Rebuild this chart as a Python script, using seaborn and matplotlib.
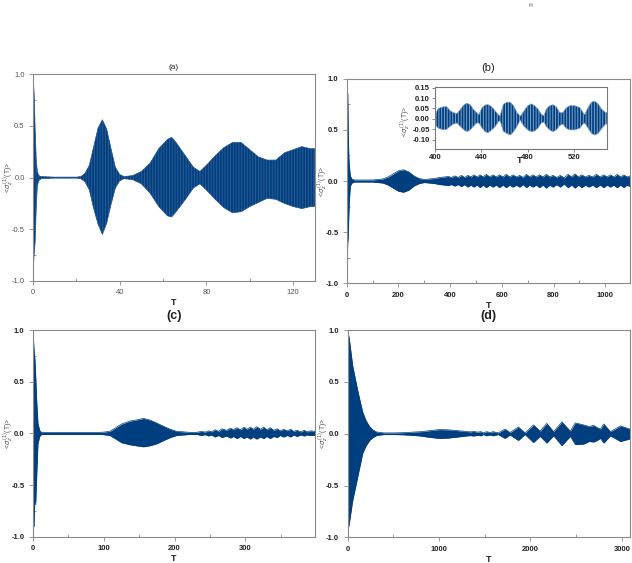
import matplotlib
matplotlib.use('Agg')
import matplotlib.pyplot as plt
from matplotlib.ticker import MultipleLocator, FormatStrFormatter
import seaborn as sns

# ---- envelope of <sigma_z(T)> ----
# panel (a)
a_t = [0, 0.5, 1.0, 1.5, 2.0, 2.5, 3.0, 4, 10, 20, 22, 24, 26, 28, 30, 32, 34, 36, 38, 40, 42,
       46, 50, 54, 58, 62, 64, 66, 70, 74, 77, 80, 84, 88, 92, 96, 100, 104, 108, 112, 116,
       120, 124, 128, 130]
a_up = [1.0, 0.83, 0.47, 0.18, 0.06, 0.03, 0.015, 0.01, 0.005, 0.005, 0.01, 0.04, 0.12, 0.3,
        0.48, 0.56, 0.47, 0.28, 0.1, 0.03, 0.01, 0.02, 0.06, 0.14, 0.28, 0.37, 0.39, 0.34,
        0.22, 0.1, 0.06, 0.12, 0.21, 0.29, 0.34, 0.34, 0.27, 0.2, 0.17, 0.17, 0.24, 0.27,
        0.3, 0.28, 0.28]
a_lo = [-0.96, -0.75, -0.62, -0.3, -0.08, -0.04, -0.02, -0.01, -0.005, -0.005, -0.01, -0.04,
        -0.12, -0.3, -0.45, -0.55, -0.44, -0.26, -0.1, -0.03, -0.01, -0.02, -0.06, -0.15,
        -0.28, -0.37, -0.38, -0.33, -0.22, -0.1, -0.06, -0.12, -0.21, -0.29, -0.34, -0.33,
        -0.28, -0.24, -0.2, -0.21, -0.25, -0.28, -0.3, -0.28, -0.28]

# panel (b)
b_t = [0, 2, 4, 6, 8, 10, 14, 20, 30, 60, 100, 120, 140, 160, 180, 200, 220, 240, 260, 280,
       300, 320, 340, 360, 380,
       392, 405, 418, 431, 444, 456, 469, 480, 492, 504, 516, 528, 540, 553, 566, 578, 591,
       604, 617, 630, 643, 656, 669, 682, 695, 708, 720, 733, 746, 759, 772, 785, 798, 812,
       826, 841, 856, 870, 883, 896, 909, 923, 937, 951, 966, 980, 994, 1007, 1020, 1033,
       1046, 1059, 1072, 1084, 1096]
b_up = [1.0, 0.9, 0.85, 0.5, 0.25, 0.15, 0.05, 0.02, 0.01, 0.01, 0.01, 0.015, 0.02, 0.04,
        0.07, 0.1, 0.11, 0.09, 0.05, 0.025, 0.015, 0.02, 0.025, 0.035, 0.04,
        0.045, 0.035, 0.05, 0.035, 0.055, 0.035, 0.055, 0.04, 0.06, 0.04, 0.06, 0.04, 0.065,
        0.04, 0.06, 0.04, 0.06, 0.04, 0.065, 0.04, 0.06, 0.04, 0.055, 0.035, 0.065, 0.04,
        0.06, 0.04, 0.06, 0.04, 0.065, 0.04, 0.055, 0.035, 0.055, 0.03, 0.065, 0.04, 0.07,
        0.04, 0.06, 0.04, 0.055, 0.04, 0.065, 0.04, 0.06, 0.04, 0.06, 0.04, 0.065, 0.04,
        0.06, 0.04, 0.05]
b_lo = [-0.93, -0.78, -0.6, -0.55, -0.35, -0.2, -0.05, -0.02, -0.01, -0.01, -0.01, -0.015,
        -0.02, -0.04, -0.07, -0.1, -0.11, -0.09, -0.05, -0.025, -0.015, -0.02, -0.025,
        -0.035, -0.04,
        -0.045, -0.035, -0.05, -0.035, -0.055, -0.035, -0.06, -0.04, -0.06, -0.04, -0.065,
        -0.04, -0.065, -0.04, -0.06, -0.04, -0.065, -0.04, -0.065, -0.04, -0.06, -0.04,
        -0.06, -0.035, -0.065, -0.04, -0.06, -0.04, -0.065, -0.04, -0.07, -0.04, -0.06,
        -0.035, -0.06, -0.03, -0.065, -0.04, -0.07, -0.04, -0.065, -0.04, -0.06, -0.04,
        -0.065, -0.04, -0.065, -0.04, -0.06, -0.04, -0.065, -0.04, -0.065, -0.04, -0.055]

# inset of (b), 400 <= T <= 548
i_t = [400.3, 403, 407.5, 410.3, 413, 416, 419, 422, 425, 427.6, 430.5, 433, 436, 438, 440.5,
       443.4, 446, 449, 452, 455, 456.3, 459, 462, 465, 467.8, 470.7, 473.6, 474.4, 477, 480,
       483, 486, 488.8, 491.7, 494, 496, 498.8, 501.7, 504.6, 507.5, 510.3, 513, 516, 520.4,
       524.7, 527.6, 529, 532, 534.8, 537.7, 540.6, 543.5, 547, 548]
i_up = [0.022, 0.05, 0.058, 0.058, 0.04, 0.03, 0.025, 0.045, 0.067, 0.075, 0.068, 0.047, 0.03,
        0.02, 0.052, 0.067, 0.068, 0.058, 0.038, 0.018, 0.015, 0.07, 0.08, 0.08, 0.063, 0.03,
        0.013, 0.018, 0.04, 0.063, 0.072, 0.063, 0.047, 0.022, 0.015, 0.047, 0.063, 0.068,
        0.058, 0.03, 0.03, 0.052, 0.063, 0.063, 0.055, 0.03, 0.02, 0.055, 0.08, 0.085, 0.072,
        0.047, 0.03, 0.03]
i_lo = [-0.028, -0.045, -0.053, -0.05, -0.037, -0.025, -0.02, -0.037, -0.053, -0.062, -0.053,
        -0.037, -0.02, -0.02, -0.042, -0.062, -0.067, -0.053, -0.037, -0.012, -0.01, -0.06,
        -0.07, -0.078, -0.062, -0.037, -0.005, -0.015, -0.037, -0.053, -0.062, -0.058, -0.045,
        -0.02, -0.015, -0.037, -0.053, -0.062, -0.053, -0.032, -0.025, -0.045, -0.053, -0.053,
        -0.045, -0.025, -0.02, -0.045, -0.07, -0.078, -0.07, -0.048, -0.025, -0.025]

# panel (c)
c_t = [0, 1.4, 2.8, 3.8, 5.2, 7, 9.4, 12, 40, 94, 99, 108.6, 115.7, 125, 137, 146, 156, 165,
       175, 184, 194, 203, 212.6, 222, 231,
       238, 243, 248, 252, 257, 262, 267, 273, 279, 283, 288, 293, 298, 302, 307, 311, 316,
       321, 326, 330, 335, 340, 345, 349, 354, 359, 364, 368, 373, 378, 383, 387, 392, 398]
c_up = [1.0, 0.82, 0.71, 0.56, 0.32, 0.1, 0.03, 0.01, 0.01, 0.01, 0.012, 0.02, 0.05, 0.09,
        0.12, 0.13, 0.145, 0.13, 0.1, 0.07, 0.04, 0.02, 0.015, 0.01, 0.01,
        0.02, 0.012, 0.025, 0.015, 0.035, 0.02, 0.045, 0.03, 0.05, 0.035, 0.055, 0.035, 0.06,
        0.04, 0.06, 0.04, 0.065, 0.04, 0.06, 0.035, 0.055, 0.03, 0.045, 0.025, 0.04, 0.025,
        0.04, 0.02, 0.03, 0.015, 0.03, 0.015, 0.025, 0.02]
c_lo = [-0.91, -0.9, -0.6, -0.69, -0.42, -0.1, -0.03, -0.01, -0.01, -0.01, -0.012, -0.02,
        -0.05, -0.09, -0.11, -0.12, -0.13, -0.12, -0.1, -0.07, -0.04, -0.02, -0.015, -0.01,
        -0.01,
        -0.02, -0.012, -0.025, -0.015, -0.035, -0.02, -0.04, -0.025, -0.045, -0.03, -0.05,
        -0.03, -0.05, -0.035, -0.055, -0.035, -0.055, -0.035, -0.05, -0.03, -0.05, -0.03,
        -0.04, -0.02, -0.035, -0.02, -0.035, -0.015, -0.03, -0.015, -0.025, -0.015, -0.02,
        -0.02]

# panel (d)
d_t = [0, 18, 55, 110, 165, 200, 240, 280, 320, 400, 500, 600, 700, 800, 900, 1000, 1100,
       1200, 1300, 1340, 1380, 1420, 1460, 1484, 1520, 1557, 1593, 1648, 1722, 1777, 1868,
       1941, 2033, 2106, 2179, 2253, 2344, 2436, 2490, 2582, 2640, 2692, 2730, 2766, 2802,
       2875, 2985, 3090]
d_up = [1.0, 0.92, 0.66, 0.42, 0.21, 0.13, 0.07, 0.035, 0.016, 0.008, 0.008, 0.01, 0.015,
        0.02, 0.03, 0.04, 0.038, 0.03, 0.022, 0.018, 0.022, 0.016, 0.02, 0.008, 0.02, 0.012,
        0.02, 0.008, 0.045, 0.012, 0.065, 0.008, 0.085, 0.025, 0.1, 0.02, 0.115, 0.025, 0.105,
        0.085, 0.07, 0.08, 0.06, 0.045, 0.095, 0.02, 0.075, 0.045]
d_lo = [-0.95, -0.87, -0.65, -0.42, -0.19, -0.12, -0.065, -0.035, -0.016, -0.008, -0.008,
        -0.01, -0.015, -0.022, -0.035, -0.045, -0.042, -0.032, -0.022, -0.018, -0.022, -0.016,
        -0.02, -0.008, -0.02, -0.012, -0.02, -0.008, -0.045, -0.012, -0.065, -0.008, -0.085,
        -0.025, -0.09, -0.02, -0.115, -0.025, -0.105, -0.1, -0.075, -0.08, -0.065, -0.045,
        -0.09, -0.02, -0.075, -0.05]

NAVY = '#003f7f'
MID = '#2b5a94'
YLAB = r'<$\sigma_z^{\,(1)}$(T)>'

sns.set_style('ticks')
plt.rcParams['font.family'] = ['Liberation Sans', 'DejaVu Sans']
plt.rcParams['hatch.linewidth'] = 1.3


def draw_signal(ax, t, up, lo, face, hatch=None):
    ax.fill_between(t, lo, up, facecolor=face, edgecolor=NAVY, hatch=hatch, linewidth=0)
    sns.lineplot(x=t, y=up, ax=ax, color=face, linewidth=0.5)
    sns.lineplot(x=t, y=lo, ax=ax, color=face, linewidth=0.5)


def style_axes(ax, xmax, xmajor, xminor, bold):
    ax.set_xlim(0, xmax)
    ax.set_ylim(-1, 1)
    ax.xaxis.set_major_locator(MultipleLocator(xmajor))
    ax.xaxis.set_minor_locator(MultipleLocator(xminor))
    ax.yaxis.set_major_locator(MultipleLocator(0.5))
    ax.yaxis.set_minor_locator(MultipleLocator(0.25))
    ax.yaxis.set_major_formatter(FormatStrFormatter('%.1f'))
    for s in ax.spines.values():
        s.set_visible(True)
        s.set_color('#8a8a8a')
        s.set_linewidth(0.8)
    ax.tick_params(which='major', length=3, width=0.6, color='#8a8a8a', labelsize=5.5,
                   labelcolor='#222222' if bold else '#555555', pad=3)
    ax.tick_params(which='minor', length=2, width=0.6, color='#8a8a8a', direction='in')
    if bold:
        for lab in ax.get_xticklabels() + ax.get_yticklabels():
            lab.set_fontweight('bold')
    ax.set_xlabel('T', fontsize=6.5, fontweight='bold', color='#222222')
    ax.xaxis.set_label_coords(0.5, -0.085)
    ax.set_ylabel(YLAB, fontsize=5, color='#555555')
    ax.yaxis.set_label_coords(-0.064, 0.5)


fig = plt.figure(figsize=(6.32, 5.63), dpi=100)
ax_a = fig.add_axes([0.0522, 0.501, 0.446, 0.367])
ax_b = fig.add_axes([0.5486, 0.497, 0.4484, 0.363])
ax_c = fig.add_axes([0.0522, 0.0467, 0.446, 0.367])
ax_d = fig.add_axes([0.550, 0.0456, 0.447, 0.368])

draw_signal(ax_a, a_t, a_up, a_lo, MID, hatch='||||||')
style_axes(ax_a, 130, 40, 20, bold=False)

draw_signal(ax_b, b_t, b_up, b_lo, NAVY)
style_axes(ax_b, 1096, 200, 100, bold=True)

draw_signal(ax_c, c_t, c_up, c_lo, NAVY)
style_axes(ax_c, 398, 100, 50, bold=True)

draw_signal(ax_d, d_t, d_up, d_lo, NAVY)
style_axes(ax_d, 3090, 1000, 500, bold=True)

# panel captions
ax_a.text(0.5, 1.035, '(a)', transform=ax_a.transAxes, ha='center', va='center',
          fontsize=6, color='#222222')
ax_b.text(0.5, 1.055, '(b)', transform=ax_b.transAxes, ha='center', va='center',
          fontsize=8, color='#222222')
ax_c.text(0.5, 1.068, '(c)', transform=ax_c.transAxes, ha='center', va='center',
          fontsize=9, fontweight='bold', color='#222222')
ax_d.text(0.5, 1.068, '(d)', transform=ax_d.transAxes, ha='center', va='center',
          fontsize=9, fontweight='bold', color='#222222')
fig.text(531 / 632, 1 - 5 / 563, '(b)', fontsize=3, ha='center', va='center', color='#444444')

# inset of panel (b)
ax_i = fig.add_axes([0.688, 0.7353, 0.272, 0.1098])
draw_signal(ax_i, i_t, i_up, i_lo, '#7fa2cb', hatch='||||||')
ax_i.set_xlim(400, 548)
ax_i.set_ylim(-0.145, 0.152)
ax_i.xaxis.set_major_locator(MultipleLocator(40))
ax_i.yaxis.set_major_locator(MultipleLocator(0.05))
ax_i.yaxis.set_major_formatter(FormatStrFormatter('%.2f'))
for s in ax_i.spines.values():
    s.set_visible(True)
    s.set_color('#777777')
    s.set_linewidth(0.8)
ax_i.tick_params(length=2, width=0.6, color='#777777', labelsize=5.5, labelcolor='#222222',
                 pad=1.5)
for lab in ax_i.get_xticklabels() + ax_i.get_yticklabels():
    lab.set_fontweight('bold')
ax_i.set_xlabel('T', fontsize=6.5, fontweight='bold', color='#222222')
ax_i.xaxis.set_label_coords(0.495, -0.12)
ax_i.set_ylabel(YLAB, fontsize=5, color='#555555')
ax_i.yaxis.set_label_coords(-0.13, 0.45)

fig.savefig('out.png', dpi=100, facecolor='white')
